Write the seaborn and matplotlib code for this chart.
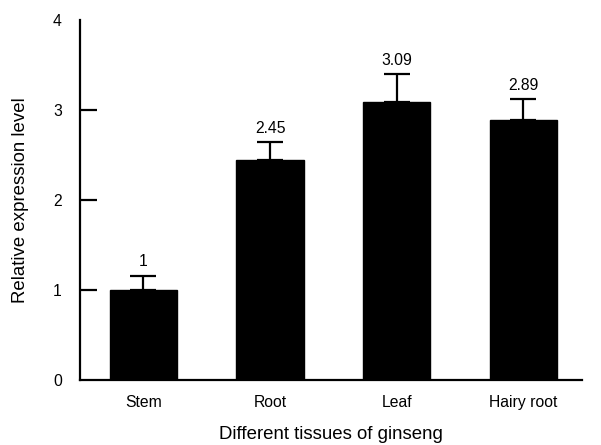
import numpy as np
import pandas as pd
import matplotlib
matplotlib.use("Agg")
import matplotlib.pyplot as plt
import seaborn as sns

tissues = ["Stem", "Root", "Leaf", "Hairy root"]
values = [1.0, 2.45, 3.09, 2.89]
errors = [0.16, 0.19, 0.31, 0.23]
labels = ["1", "2.45", "3.09", "2.89"]

sns.set_style("white")
plt.rcParams['font.family'] = ['Liberation Sans', 'DejaVu Sans']
plt.rcParams['text.color'] = 'black'
plt.rcParams['axes.labelcolor'] = 'black'
plt.rcParams['xtick.color'] = 'black'
plt.rcParams['ytick.color'] = 'black'

df = pd.DataFrame({"tissue": tissues, "value": values})

fig = plt.figure(figsize=(6.01, 4.45), dpi=100)
ax = fig.add_axes([0.133, 0.146, 0.835, 0.809])

sns.barplot(data=df, x="tissue", y="value", color="black", width=0.53,
            errorbar=None, ax=ax, saturation=1)
for p in ax.patches:
    p.set_edgecolor("black")

x = np.arange(len(tissues))
ax.errorbar(x, values, yerr=[np.zeros(len(errors)), errors], fmt="none",
            ecolor="black", elinewidth=1.6, capsize=9.5, capthick=1.6)

for xi, v, e, lab in zip(x, values, errors, labels):
    ax.annotate(lab, (xi, v + e), xytext=(0, 4.5), textcoords="offset points",
                ha="center", va="bottom", fontsize=11.3)

ax.set_xlim(-0.5, 3.46)
ax.set_ylim(0, 4)
ax.set_yticks([0, 1, 2, 3, 4])
ax.tick_params(axis="y", left=True, direction="in", length=12, width=1.6,
               labelsize=11.3, pad=13)
ax.tick_params(axis="x", bottom=False, length=0, labelsize=11.3, pad=11)
yt = ax.yaxis.get_major_ticks()
for t in (yt[0], yt[-1]):
    t.tick1line.set_visible(False)
sns.despine(ax=ax)
for s in ["left", "bottom"]:
    ax.spines[s].set_linewidth(1.6)
    ax.spines[s].set_color("black")

ax.set_xlabel("Different tissues of ginseng", fontsize=13.4, labelpad=11)
ax.set_ylabel("Relative expression level", fontsize=13.4, labelpad=17)

fig.savefig("out.png", dpi=100)
